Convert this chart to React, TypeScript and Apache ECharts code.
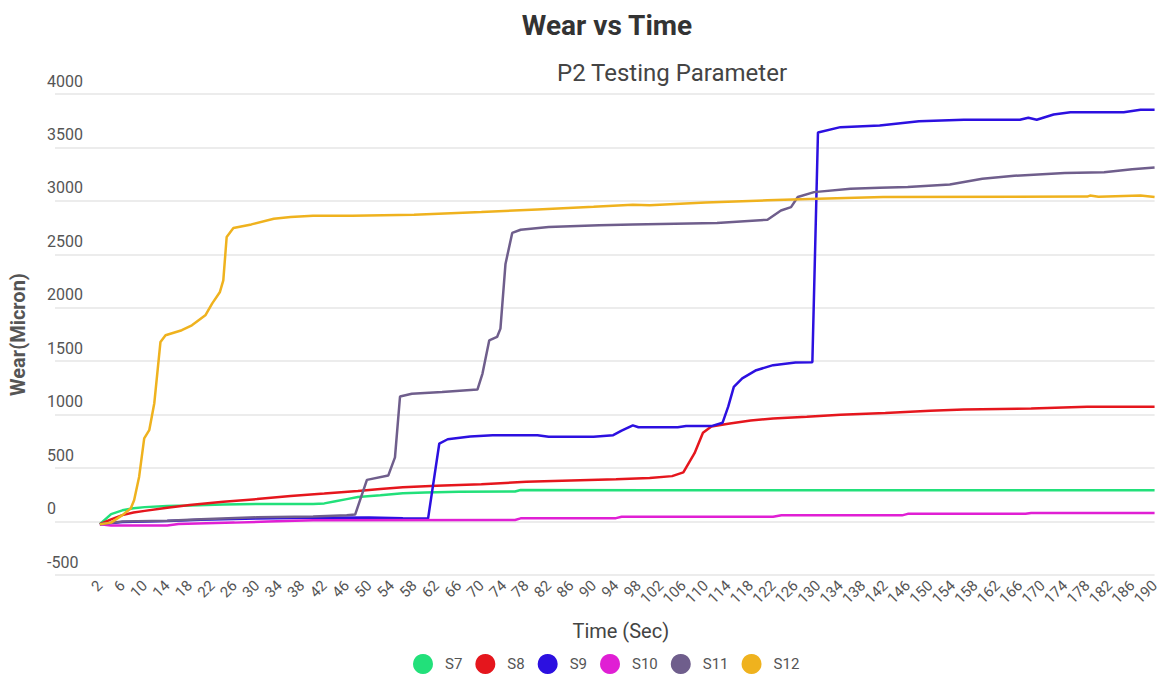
import React, { useEffect, useRef } from "react";
import * as echarts from "echarts";

const seriesNames = ["S7", "S8", "S9", "S10", "S11", "S12"];
const seriesColors = ["#22e07a", "#e5161d", "#2c10e0", "#e01fd4", "#6f5e8c", "#efb21e"];

const s7: number[][] = [
  [2, -25], [4, 70], [6, 105], [8, 125], [10, 135], [14, 145], [18, 150], [24, 160], [30, 165],
  [40, 165], [42, 170], [44, 190], [46, 210], [48, 230], [52, 245], [56, 265], [60, 272],
  [66, 278], [76, 282], [77, 295], [100, 293], [140, 292], [190, 292],
];
const s8: number[][] = [
  [2, -25], [4, 20], [6, 60], [8, 85], [10, 100], [14, 130], [18, 155], [24, 185], [30, 210],
  [36, 240], [42, 262], [48, 285], [52, 305], [56, 322], [62, 335], [70, 350], [78, 372],
  [86, 385], [94, 395], [100, 408], [104, 425], [106, 460], [108, 640], [109.5, 830], [111, 890],
  [114, 915], [118, 945], [122, 965], [128, 980], [134, 1000], [142, 1015], [150, 1036],
  [156, 1049], [168, 1058], [178, 1073], [190, 1073],
];
const s9: number[][] = [
  [2, -25], [6, -5], [14, 5], [20, 18], [30, 28], [40, 35], [50, 38], [56, 30], [60.5, 28],
  [62.5, 730], [64, 770], [68, 795], [72, 808], [80, 808], [82, 793], [90, 793], [93.5, 808],
  [95, 850], [97, 900], [98, 882], [105, 882], [106.5, 893], [111, 893], [113, 925], [114, 1075],
  [115, 1260], [116.5, 1340], [119, 1416], [122, 1463], [126, 1488], [129, 1490], [130, 3640],
  [134, 3690], [141, 3706], [148, 3745], [156, 3759], [166, 3759], [167.5, 3778], [169, 3759],
  [172, 3808], [175, 3830], [184.5, 3830], [187.5, 3852], [190, 3852],
];
const s10: number[][] = [
  [2, -25], [4, -38], [14, -36], [16, -22], [26, -10], [32, 0], [40, 12], [76, 14], [77, 30],
  [94, 32], [95, 45], [122, 45], [123.5, 58], [145, 58], [146, 72], [167, 72], [168, 80], [190, 80],
];
const s11: number[][] = [
  [2, -25], [6, 0], [14, 8], [20, 22], [30, 40], [40, 48], [46, 58], [47.5, 65], [49.6, 390],
  [53.4, 430], [54.6, 600], [55.5, 1170], [57.6, 1195], [63, 1212], [69.3, 1235], [70.2, 1385],
  [71.4, 1695], [72.8, 1727], [73.4, 1805], [74.3, 2410], [75.5, 2700], [77, 2730], [82, 2755],
  [91, 2771], [97, 2780], [112, 2793], [121, 2824], [123.4, 2910], [125.2, 2942], [126.4, 3036],
  [129.3, 3082], [135.8, 3114], [141, 3123], [146, 3129], [153.5, 3154], [159.3, 3207],
  [165, 3235], [171.6, 3254], [174, 3260], [181, 3269], [186, 3295], [190, 3312],
];
const s12: number[][] = [
  [2, -25], [4, -10], [6, 60], [7.5, 123], [8.1, 200], [9, 420], [9.9, 778], [10.8, 855],
  [11.7, 1107], [12.8, 1680], [13.7, 1743], [16.6, 1790], [18.4, 1836], [20.8, 1930], [22, 2039],
  [23.4, 2148], [24, 2257], [24.6, 2662], [25.8, 2746], [29, 2780], [33, 2833], [36, 2849],
  [40, 2862], [47, 2862], [58, 2870], [70, 2896], [80, 2920], [90, 2945], [97, 2965], [100, 2960],
  [110, 2985], [121, 3005], [130, 3020], [141.6, 3036], [178, 3040], [178.5, 3050], [180, 3038],
  [187.5, 3050], [190, 3036],
];
const seriesData = [s7, s8, s9, s10, s11, s12];

const yTicks = { min: -500, max: 4000, interval: 500 };
const xTicks = { min: -6, max: 190, interval: 4, firstLabel: 2 };

const FONT = "Roboto, 'Noto Sans', sans-serif";

export default function App() {
  const ref = useRef<HTMLDivElement>(null);
  useEffect(() => {
    if (!ref.current) return;
    const chart = echarts.init(ref.current, undefined, { renderer: "svg" });
    chart.setOption({
      animation: false,
      backgroundColor: "#ffffff",
      textStyle: { fontFamily: FONT },
      title: [
        {
          text: "Wear vs Time",
          left: 602,
          textAlign: "center",
          top: 6,
          textStyle: { fontSize: 28, fontWeight: "bold", color: "#333", fontFamily: FONT },
        },
        {
          text: "P2 Testing Parameter",
          left: 667,
          textAlign: "center",
          top: 56,
          textStyle: { fontSize: 24, fontWeight: "normal", color: "#444", fontFamily: FONT },
        },
      ],
      legend: {
        data: seriesNames,
        left: 408,
        top: 649,
        icon: "circle",
        itemWidth: 20,
        itemHeight: 20,
        itemGap: 13,
        textStyle: { fontSize: 15, color: "#555", padding: [0, 0, 0, 7], fontFamily: FONT },
      },
      grid: { left: 46, right: 5, top: 94, bottom: 100, containLabel: false },
      xAxis: {
        type: "value",
        min: xTicks.min,
        max: xTicks.max,
        interval: xTicks.interval,
        name: "Time (Sec)",
        nameLocation: "middle",
        nameGap: 46,
        nameTextStyle: { fontSize: 20, color: "#444", padding: [0, 0, 0, 32], fontFamily: FONT },
        axisLine: { show: false },
        axisTick: { show: false },
        splitLine: { show: false },
        axisLabel: {
          rotate: 45,
          fontSize: 15,
          color: "#555",
          margin: 8,
          showMinLabel: true,
          showMaxLabel: true,
          formatter: (v: number) => (v < xTicks.firstLabel ? "" : String(v)),
        },
      },
      yAxis: {
        type: "value",
        min: yTicks.min,
        max: yTicks.max,
        interval: yTicks.interval,
        name: "Wear(Micron)",
        nameLocation: "middle",
        nameGap: 27,
        nameRotate: 90,
        nameTextStyle: { fontSize: 20, fontWeight: "bold", color: "#555", fontFamily: FONT },
        axisLine: { show: false },
        axisTick: { show: false },
        splitLine: { show: true, lineStyle: { color: "#e6e6e6", width: 1.5 } },
        axisLabel: {
          inside: true,
          margin: -8,
          verticalAlign: "bottom",
          padding: [0, 0, 5, 0],
          fontSize: 16,
          color: "#555",
          formatter: (v: number) => String(v),
        },
      },
      series: seriesNames.map((name, i) => ({
        name,
        type: "line",
        data: seriesData[i],
        showSymbol: false,
        symbol: "circle",
        itemStyle: { color: seriesColors[i] },
        lineStyle: { color: seriesColors[i], width: 2.5 },
      })),
    });
    return () => chart.dispose();
  }, []);
  return (
    <div
      ref={ref}
      style={{ position: "fixed", left: 0, top: 0, width: 1162, height: 675 }}
    />
  );
}
